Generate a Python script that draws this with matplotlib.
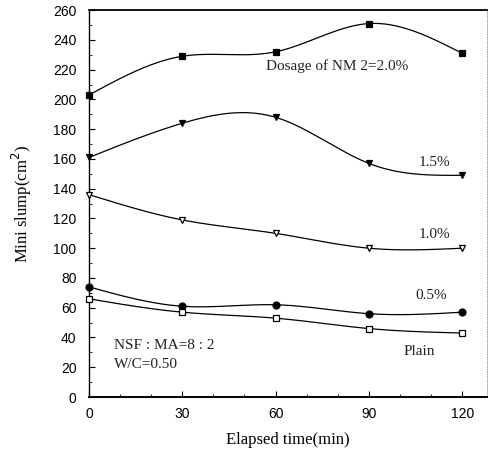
import matplotlib
matplotlib.use("Agg")
import matplotlib.pyplot as plt
import numpy as np

# elapsed time (min) and mini slump (cm^2) per NM dosage
TIME = [0, 30, 60, 90, 120]
SLUMP_20 = [203, 229, 232, 251, 231]
SLUMP_15 = [161, 184, 188, 157, 149]
SLUMP_10 = [136, 119, 110, 100, 100]
SLUMP_05 = [74, 61, 62, 56, 57]
SLUMP_00 = [66, 57, 53, 46, 43]

SERIF = ["Liberation Serif", "DejaVu Serif"]
SANS = ["Liberation Sans", "DejaVu Sans"]


def spline(x, y, n=200):
    """Natural cubic spline through the points, for the smooth hand-drawn look."""
    x = np.asarray(x, float)
    y = np.asarray(y, float)
    h = np.diff(x)
    m = len(x)
    A = np.zeros((m, m))
    b = np.zeros(m)
    A[0, 0] = A[-1, -1] = 1
    for i in range(1, m - 1):
        A[i, i - 1] = h[i - 1]
        A[i, i] = 2 * (h[i - 1] + h[i])
        A[i, i + 1] = h[i]
        b[i] = 6 * ((y[i + 1] - y[i]) / h[i] - (y[i] - y[i - 1]) / h[i - 1])
    M = np.linalg.solve(A, b)
    xs = np.linspace(x[0], x[-1], n)
    idx = np.clip(np.searchsorted(x, xs) - 1, 0, m - 2)
    x0, x1 = x[idx], x[idx + 1]
    hh = x1 - x0
    t0, t1 = x1 - xs, xs - x0
    ys = (M[idx] * t0**3 + M[idx + 1] * t1**3) / (6 * hh) \
        + (y[idx] / hh - M[idx] * hh / 6) * t0 \
        + (y[idx + 1] / hh - M[idx + 1] * hh / 6) * t1
    return xs, ys


fig = plt.figure(figsize=(4.88, 4.53), dpi=100)
ax = fig.add_axes([0.1824, 0.1236, 0.8156, 0.854])

series = [
    (SLUMP_20, dict(marker="s", mfc="black")),
    (SLUMP_15, dict(marker="v", mfc="black")),
    (SLUMP_10, dict(marker="v", mfc="white")),
    (SLUMP_05, dict(marker="o", mfc="black")),
    (SLUMP_00, dict(marker="s", mfc="white")),
]
for ys, st in series:
    sx, sy = spline(TIME, ys)
    ax.plot(sx, sy, color="black", lw=0.9, zorder=2)
    ax.plot(TIME, ys, ls="none", mec="black", ms=5, mew=0.9,
            zorder=3, clip_on=False, **st)

ax.set_xlim(0, 128)
ax.set_ylim(0, 260)
ax.set_xticks([0, 30, 60, 90, 120])
ax.set_yticks(np.arange(0, 261, 20))
ax.set_yticks(np.arange(0, 261, 10), minor=True)
ax.set_xticks(np.arange(0, 128, 10), minor=True)
ax.tick_params(direction="in", length=4, width=0.8, labelsize=10)
ax.tick_params(axis="y", pad=9)
ax.tick_params(axis="x", pad=7)
ax.tick_params(which="minor", direction="in", length=2, width=0.6)
for lab in ax.get_xticklabels() + ax.get_yticklabels():
    lab.set_family(SANS)

ax.spines["right"].set_linestyle((0, (1, 2)))
ax.spines["right"].set_linewidth(0.6)
ax.spines["right"].set_color("#888888")
ax.spines["left"].set_linewidth(1.0)
ax.spines["top"].set_linewidth(1.3)
ax.spines["bottom"].set_linewidth(1.4)

ax.set_xlabel("Elapsed time(min)", family=SERIF, fontsize=12, labelpad=8)
ax.set_ylabel("Mini slump(cm$^2$)", family=SERIF, fontsize=12, labelpad=14)

txt = dict(family=SERIF, fontsize=11, color="#222222")
ax.text(57, 220, "Dosage of NM 2=2.0%", **txt)
ax.text(106, 155.5, "1.5%", **txt)
ax.text(106, 107, "1.0%", **txt)
ax.text(105, 66, "0.5%", **txt)
ax.text(101, 28, "Plain", **txt)
ax.text(8, 32.5, "NSF : MA=8 : 2", **txt)
ax.text(8, 19.5, "W/C=0.50", **txt)

fig.savefig("out.png", dpi=100)
